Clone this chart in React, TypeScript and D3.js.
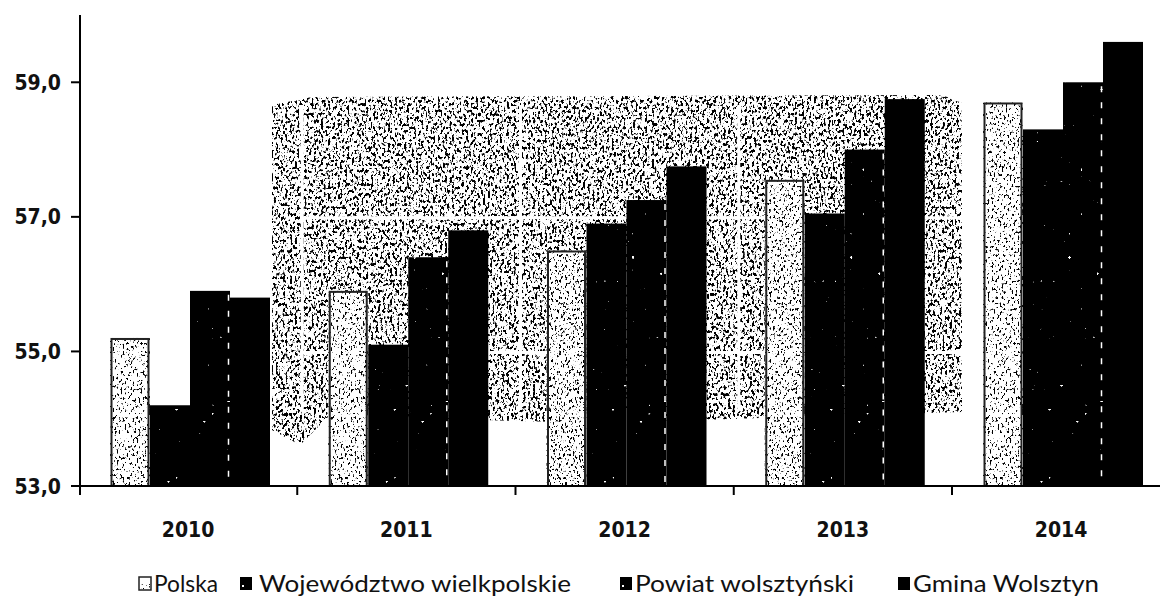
import React from "react";
import * as d3 from "d3";

const years = ["2010", "2011", "2012", "2013", "2014"];
const seriesNames = ["Polska", "Województwo wielkpolskie", "Powiat wolsztyński", "Gmina Wolsztyn"];
const polska = [55.2, 55.9, 56.5, 57.55, 58.7];
const wielkopolskie = [54.2, 55.1, 56.9, 57.05, 58.3];
const powiat = [55.9, 56.4, 57.25, 58.0, 59.0];
const gmina = [55.8, 56.8, 57.75, 58.75, 59.6];
const yTicks = [53, 55, 57, 59];
const tickLabels = ["53,0", "55,0", "57,0", "59,0"];

const W = 1160;
const H = 610;
const X0 = 79;
const BAND = 218.25;
const TOP = 15;
const BOTTOM = 486;

export default function App() {
  const x = d3.scaleBand<string>().domain(years).range([X0, X0 + BAND * years.length]).paddingInner(0).paddingOuter(0);
  const sub = d3.scaleBand<string>().domain(seriesNames).range([31, 31 + 160]).padding(0);
  const y = d3.scaleLinear().domain([53, 60]).range([BOTTOM, TOP]);

  const allSeries = [polska, wielkopolskie, powiat, gmina];

  const phantomLeft = 272;
  const phantomRight = 962;
  const phantomTop = 97;
  const phantomPath = d3.line()([
    [phantomLeft, phantomTop + 8],
    [phantomLeft + 40, phantomTop],
    [phantomRight - 20, phantomTop - 2],
    [phantomRight, phantomTop + 6],
    [phantomRight, 412],
    [760, 418],
    [700, 420],
    [560, 422],
    [480, 420],
    [330, 415],
    [300, 445],
    [phantomLeft, 430],
  ]) + "Z";

  const boundaries = [1, 2, 3].map((i) => X0 + BAND * i + 5);

  const legendX = [139, 240, 620, 898];
  const legendTextLen = [64, 312, 219, 186];

  const tickFont = "DejaVu Sans Condensed, DejaVu Sans";

  return (
    <svg width={W} height={H} style={{ display: "block", position: "absolute", left: 0, top: 0, background: "#fff" }}>
      <defs>
        <filter id="phantomNoise" x="0" y="0" width="100%" height="100%" filterUnits="userSpaceOnUse">
          <feTurbulence type="fractalNoise" baseFrequency="0.42 0.3" numOctaves="2" seed="4" result="t" />
          <feColorMatrix in="t" type="matrix" values="0 0 0 0 0  0 0 0 0 0  0 0 0 0 0  14 0 0 0 -7.5" result="dots" />
          <feComposite in="dots" in2="SourceGraphic" operator="in" />
        </filter>
        <filter id="lightNoise" x="0" y="0" width="100%" height="100%" filterUnits="userSpaceOnUse">
          <feTurbulence type="fractalNoise" baseFrequency="0.5 0.35" numOctaves="2" seed="9" result="t" />
          <feColorMatrix in="t" type="matrix" values="0 0 0 0 0  0 0 0 0 0  0 0 0 0 0  14 0 0 0 -8.3" result="dots" />
          <feComposite in="dots" in2="SourceGraphic" operator="in" />
        </filter>
        <filter id="whiteSpecks" x="0" y="0" width="100%" height="100%" filterUnits="userSpaceOnUse">
          <feTurbulence type="fractalNoise" baseFrequency="0.25" numOctaves="1" seed="2" result="t" />
          <feColorMatrix in="t" type="matrix" values="0 0 0 0 1  0 0 0 0 1  0 0 0 0 1  30 0 0 0 -22.5" result="dots" />
          <feComposite in="dots" in2="SourceGraphic" operator="in" />
        </filter>
      </defs>

      {/* scan ghost texture */}
      <g>
        <path d={phantomPath} fill="#000" filter="url(#phantomNoise)" />
        {[57, 55].map((v) => (
          <line key={v} x1={300} x2={phantomRight} y1={y(v) + 1} y2={y(v) + 1} stroke="#fff" strokeWidth={3} />
        ))}
        {boundaries.map((bx, i) => (
          <line key={i} x1={bx} x2={bx} y1={phantomTop + 8} y2={410} stroke="#fff" strokeWidth={3} />
        ))}
      </g>

      {/* bars */}
      {years.map((yr, i) => (
        <g key={yr} transform={`translate(${x(yr)},0)`}>
          {seriesNames.map((s, j) => {
            const v = allSeries[j][i];
            const bx = sub(s)!;
            const bw = sub.bandwidth();
            const by = y(v);
            const bh = BOTTOM - by;
            if (j === 0) {
              return (
                <g key={s}>
                  <rect x={bx} y={by} width={bw} height={bh} fill="#fff" />
                  <rect x={bx} y={by} width={bw} height={bh} fill="#000" filter="url(#lightNoise)" />
                  <rect x={bx + 1.5} y={by + 1} width={bw - 3} height={bh - 1} fill="none" stroke="#222" strokeWidth={2} />
                </g>
              );
            }
            return (
              <g key={s}>
                <rect x={bx} y={by} width={bw} height={bh} fill="#000" />
                {j < 3 && <rect x={bx} y={by} width={bw} height={bh} fill="#fff" filter="url(#whiteSpecks)" />}
                {j === 2 && <line x1={bx + bw - 1.5} x2={bx + bw - 1.5} y1={by + 4} y2={BOTTOM} stroke="#fff" strokeWidth={1.5} strokeDasharray="6 10" />}
              </g>
            );
          })}
        </g>
      ))}

      {/* axes */}
      <line x1={80} x2={80} y1={TOP} y2={BOTTOM + 1} stroke="#000" strokeWidth={2} />
      <line x1={72} x2={W} y1={BOTTOM} y2={BOTTOM} stroke="#000" strokeWidth={2} />
      {yTicks.map((t, i) => (
        <g key={t}>
          <line x1={71} x2={80} y1={y(t)} y2={y(t)} stroke="#000" strokeWidth={2} />
          <text x={61} y={y(t)} dy="0.36em" textAnchor="end" fontFamily={tickFont} fontWeight="bold" fontSize={21} fill="#111">
            {tickLabels[i]}
          </text>
        </g>
      ))}
      {[0, 1, 2, 3, 4].map((i) => {
        const bx = X0 + BAND * i + (i === 0 ? 1 : 0);
        return <line key={i} x1={bx} x2={bx} y1={BOTTOM} y2={BOTTOM + 9} stroke="#000" strokeWidth={2} />;
      })}
      {years.map((yr) => (
        <text key={yr} x={x(yr)! + x.bandwidth() / 2} y={537} textAnchor="middle" fontFamily={tickFont} fontWeight="bold" fontSize={21} fill="#111">
          {yr}
        </text>
      ))}

      {/* legend */}
      {seriesNames.map((s, j) => (
        <g key={s} transform={`translate(${legendX[j]},584)`}>
          {j === 0 ? (
            <g>
              <rect x={0} y={-7} width={12} height={13} fill="#fff" stroke="#222" strokeWidth={1.5} />
              <rect x={1} y={-6} width={10} height={11} fill="#000" filter="url(#lightNoise)" />
            </g>
          ) : (
            <g>
              <rect x={0} y={-7} width={12} height={13} fill="#000" />
              {j < 3 && <rect x={2} y={1} width={2} height={2} fill="#fff" />}
            </g>
          )}
          <text
            x={j === 1 ? 19 : 15}
            y={0}
            dy="0.36em"
            fontFamily="Lato"
            fontSize={23}
            fill="#111"
            textLength={legendTextLen[j]}
            lengthAdjust="spacingAndGlyphs"
          >
            {s}
          </text>
        </g>
      ))}
    </svg>
  );
}
